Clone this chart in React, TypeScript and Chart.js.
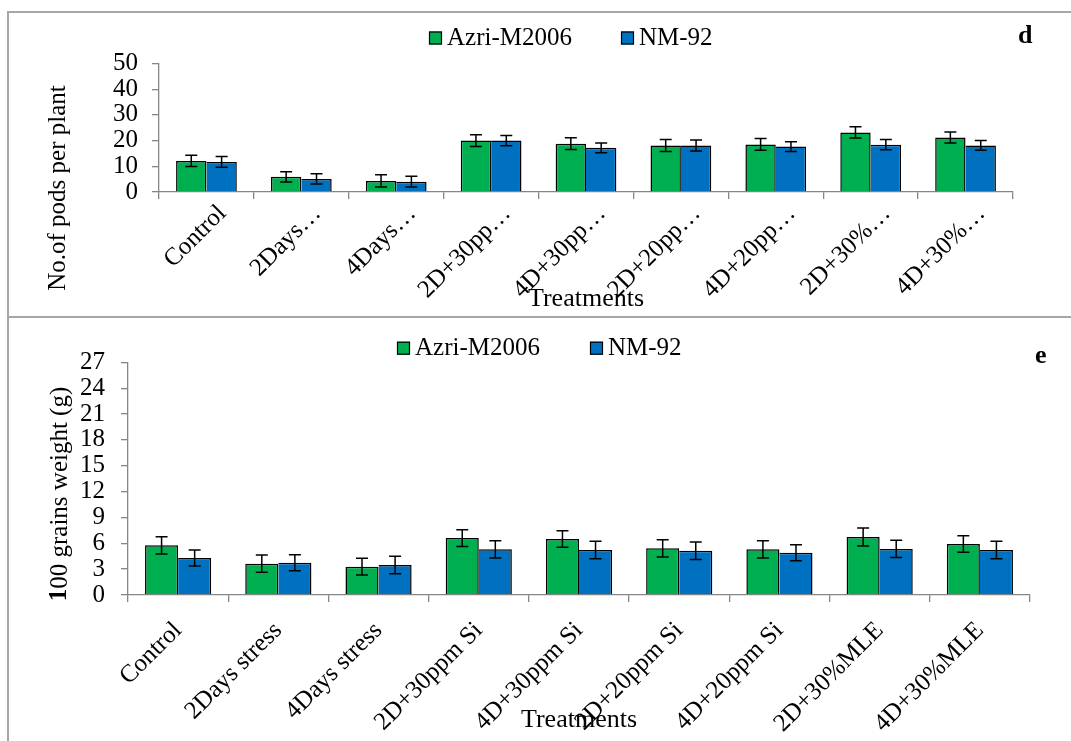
import React, { useEffect, useRef } from "react";
import { Chart, registerables } from "chart.js";

Chart.register(...registerables);

// ---------- data ----------
const SERIES_NAMES = ["Azri-M2006", "NM-92"];
const SERIES_COLORS = ["#00B050", "#0070C0"];

const CATEGORIES_D = ["Control", "2Days…", "4Days…", "2D+30pp…", "4D+30pp…", "2D+20pp…", "4D+20pp…", "2D+30%…", "4D+30%…"];
const PODS_AZRI = [12.1, 5.9, 4.3, 20.0, 18.8, 18.1, 18.5, 23.2, 21.2];
const PODS_NM = [11.7, 5.1, 4.0, 20.0, 17.2, 18.1, 17.7, 18.4, 18.1];
const PODS_AZRI_ERR = [2.2, 2.0, 2.4, 2.3, 2.3, 2.3, 2.3, 2.2, 2.1];
const PODS_NM_ERR = [2.1, 2.0, 2.1, 2.0, 1.9, 2.1, 1.9, 2.0, 1.9];
const Y_TICKS_D = [0, 10, 20, 30, 40, 50];

const CATEGORIES_E = ["Control", "2Days stress", "4Days stress", "2D+30ppm Si", "4D+30ppm Si", "2D+20ppm Si", "4D+20ppm Si", "2D+30%MLE", "4D+30%MLE"];
const GRAIN_AZRI = [5.77, 3.63, 3.29, 6.61, 6.5, 5.41, 5.3, 6.73, 5.92];
const GRAIN_NM = [4.29, 3.75, 3.48, 5.3, 5.22, 5.14, 4.91, 5.34, 5.22];
const GRAIN_AZRI_ERR = [1.0, 1.0, 0.97, 0.97, 0.96, 1.01, 1.0, 1.04, 0.96];
const GRAIN_NM_ERR = [0.93, 0.93, 1.01, 1.0, 1.01, 1.01, 0.93, 1.0, 1.01];
const Y_TICKS_E = [0, 3, 6, 9, 12, 15, 18, 21, 24, 27];

// ---------- styling ----------
const FONT = "'Liberation Serif', 'Times New Roman', serif";
const AXIS_COLOR = "#868686";
const W = 1071;
const TICK_SIZE = 25;
const LEGEND_SIZE = 25;
const TITLE_SIZE = 25;

const errorBarPlugin = {
  id: "errorBars",
  afterDatasetsDraw(chart: any) {
    const ctx = chart.ctx;
    const ys = chart.scales.y;
    chart.data.datasets.forEach((ds: any, i: number) => {
      const meta = chart.getDatasetMeta(i);
      meta.data.forEach((bar: any, j: number) => {
        const v = ds.data[j];
        const e = ds.errors[j];
        const x = bar.x;
        const yt = ys.getPixelForValue(v + e);
        const yb = ys.getPixelForValue(v - e);
        ctx.save();
        ctx.strokeStyle = "#000";
        ctx.lineWidth = 1.5;
        ctx.beginPath();
        ctx.moveTo(x, yt);
        ctx.lineTo(x, yb);
        ctx.moveTo(x - 6, yt);
        ctx.lineTo(x + 6, yt);
        ctx.moveTo(x - 6, yb);
        ctx.lineTo(x + 6, yb);
        ctx.stroke();
        ctx.restore();
      });
    });
  },
};

function makeOverlay(o: any) {
  return {
    id: "overlay",
    afterDraw(chart: any) {
      const ctx = chart.ctx;
      ctx.save();
      // legend
      SERIES_NAMES.forEach((name, i) => {
        const bx = o.legendX[i];
        ctx.fillStyle = SERIES_COLORS[i];
        ctx.fillRect(bx, o.legendBoxTop, 13, 13);
        ctx.strokeStyle = "#000";
        ctx.lineWidth = 1.2;
        ctx.strokeRect(bx + 0.5, o.legendBoxTop + 0.5, 12, 12);
        ctx.fillStyle = "#000";
        ctx.font = `${LEGEND_SIZE}px ${FONT}`;
        ctx.textAlign = "left";
        ctx.textBaseline = "alphabetic";
        ctx.fillText(name, bx + 18, o.legendBase);
      });
      // panel letter
      ctx.font = `bold 26px ${FONT}`;
      ctx.fillText(o.letter, o.letterX, o.letterBase);
      // y title (rotated)
      ctx.translate(o.yTitleX, o.yTitleY);
      ctx.rotate(-Math.PI / 2);
      ctx.textBaseline = "middle";
      ctx.textAlign = "left";
      const parts = o.yTitleParts as [string, boolean][];
      let total = 0;
      parts.forEach(([t, b]) => {
        ctx.font = `${b ? "bold " : ""}${TITLE_SIZE}px ${FONT}`;
        total += ctx.measureText(t).width;
      });
      let cx = -total / 2;
      parts.forEach(([t, b]) => {
        ctx.font = `${b ? "bold " : ""}${TITLE_SIZE}px ${FONT}`;
        ctx.fillText(t, cx, 0);
        cx += ctx.measureText(t).width;
      });
      ctx.restore();
    },
  };
}

function makeConfig(p: any): any {
  const datasets = [
    {
      label: SERIES_NAMES[0],
      data: p.a,
      errors: p.aErr,
      backgroundColor: SERIES_COLORS[0],
      borderColor: "#000",
      borderWidth: 1.5,
    },
    {
      label: SERIES_NAMES[1],
      data: p.b,
      errors: p.bErr,
      backgroundColor: SERIES_COLORS[1],
      borderColor: "#000",
      borderWidth: { top: 1.5, right: 1.5, left: 0, bottom: 0 },
    },
  ];
  return {
    type: "bar",
    data: { labels: p.labels, datasets },
    options: {
      responsive: false,
      animation: false,
      devicePixelRatio: 1,
      datasets: { bar: { categoryPercentage: p.catPct, barPercentage: 1 } },
      layout: { padding: { left: 0, right: p.padRight, top: p.padTop, bottom: 0 } },
      plugins: { legend: { display: false }, tooltip: { enabled: false } },
      scales: {
        x: {
          offset: true,
          grid: { display: true, drawOnChartArea: false, drawTicks: true, tickLength: 7, color: AXIS_COLOR, lineWidth: 1.3, offset: true },
          border: { display: true, color: AXIS_COLOR, width: 1.3 },
          ticks: { color: "#000", font: { family: FONT, size: TICK_SIZE }, minRotation: 45, maxRotation: 45, autoSkip: false, padding: p.xTickPad, labelOffset: p.xLabelOffset },
          title: { display: true, text: "Treatments", color: "#000", font: { family: FONT, size: 26 }, padding: { top: 0, bottom: p.xTitlePad } },
          afterFit: (s: any) => { s.height = p.xHeight; },
        },
        y: {
          min: p.yTicks[0],
          max: p.yTicks[p.yTicks.length - 1],
          grid: { display: true, drawOnChartArea: false, drawTicks: true, tickLength: 7, color: AXIS_COLOR, lineWidth: 1.3 },
          border: { display: true, color: AXIS_COLOR, width: 1.3 },
          ticks: { color: "#000", font: { family: FONT, size: TICK_SIZE }, padding: p.yTickPad, autoSkip: false },
          afterBuildTicks: (s: any) => { s.ticks = p.yTicks.map((v: number) => ({ value: v })); },
          afterFit: (s: any) => { s.width = p.yWidth; },
        },
      },
    },
    plugins: [errorBarPlugin, makeOverlay(p.overlay)],
  };
}

export default function App() {
  const topRef = useRef<HTMLCanvasElement>(null);
  const botRef = useRef<HTMLCanvasElement>(null);

  useEffect(() => {
    const c1 = new Chart(topRef.current as HTMLCanvasElement, makeConfig({
      labels: CATEGORIES_D, a: PODS_AZRI, b: PODS_NM, aErr: PODS_AZRI_ERR, bErr: PODS_NM_ERR,
      yTicks: Y_TICKS_D, catPct: 0.64, padRight: W - 1013, padTop: 63.5, yWidth: 159, xHeight: 315 - 192,
      xTickPad: 0, xLabelOffset: 16, yTickPad: 14, xTitlePad: 0,
      overlay: {
        legendX: [429, 621], legendBoxTop: 31.5, legendBase: 45,
        letter: "d", letterX: 1018, letterBase: 43,
        yTitleX: 58.5, yTitleY: 188, yTitleParts: [["No.of pods per plant", false]],
      },
    }));
    const c2 = new Chart(botRef.current as HTMLCanvasElement, makeConfig({
      labels: CATEGORIES_E, a: GRAIN_AZRI, b: GRAIN_NM, aErr: GRAIN_AZRI_ERR, bErr: GRAIN_NM_ERR,
      yTicks: Y_TICKS_E, catPct: 0.66, padRight: W - 1030, padTop: 362.3 - 315, yWidth: 128, xHeight: 426 - 280,
      xTickPad: 14, xLabelOffset: 0, yTickPad: 16, xTitlePad: 5,
      overlay: {
        legendX: [397, 590], legendBoxTop: 341.7 - 315, legendBase: 355 - 315,
        letter: "e", letterX: 1035, letterBase: 363 - 315,
        yTitleX: 60, yTitleY: 494 - 315, yTitleParts: [["1", true], ["00 grains weight (g)", false]],
      },
    }));
    return () => { c1.destroy(); c2.destroy(); };
  }, []);

  return (
    <div style={{ position: "absolute", left: 0, top: 0, width: W, height: 741, overflow: "hidden", background: "#fff" }}>
      <canvas ref={topRef} width={W} height={315} style={{ position: "absolute", left: 0, top: 0, width: W, height: 315 }} />
      <canvas ref={botRef} width={W} height={426} style={{ position: "absolute", left: 0, top: 315, width: W, height: 426 }} />
      <div style={{ position: "absolute", left: 7, top: 10.5, width: W, height: 303, borderLeft: "2px solid #a6a6a6", borderTop: "2px solid #a6a6a6", borderBottom: "2px solid #a6a6a6", pointerEvents: "none" }} />
      <div style={{ position: "absolute", left: 7, top: 315, width: 2, height: 426, background: "#a6a6a6", pointerEvents: "none" }} />
    </div>
  );
}
